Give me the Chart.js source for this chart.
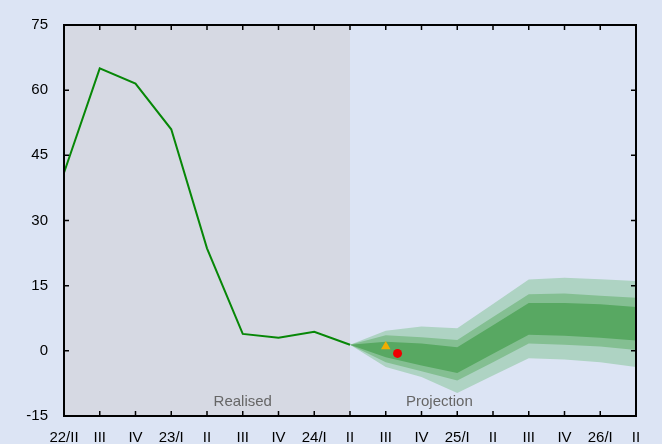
<!DOCTYPE html>
<html>
<head>
<meta charset="utf-8">
<script src="https://cdn.jsdelivr.net/npm/chart.js@4.4.1/dist/chart.umd.min.js"></script>
<style>
  html, body { margin: 0; padding: 0; background: #dce4f4; }
  #wrap { width: 662px; height: 444px; }
</style>
</head>
<body>
<div id="wrap"><canvas id="fan"></canvas></div>
<script>
// quarters, 22/II .. 26/II
var quarters = ['22/II','III','IV','23/I','II','III','IV','24/I','II','III','IV','25/I','II','III','IV','26/I','II'];
var yTicks = [-15, 0, 15, 30, 45, 60, 75];

// realised values (22/II .. 24/II)
var realised = [41, 65, 61.5, 51, 23.6, 3.9, 3.0, 4.4, 1.4];

// projection bands, 24/II .. 26/II
var outerHi = [1.4, 4.6, 5.6, 5.2, 10.8, 16.4, 16.8, 16.5, 16.1];
var midHi   = [1.4, 3.6, 3.1, 2.5, 7.8, 13.0, 13.2, 12.7, 12.2];
var innerHi = [1.4, 2.1, 1.7, 0.8, 5.9, 11.0, 11.0, 10.7, 10.1];
var innerLo = [1.4, -1.5, -3.4, -5.1, -0.7, 3.7, 3.5, 3.0, 2.4];
var midLo   = [1.4, -2.6, -4.7, -6.8, -2.6, 1.7, 1.4, 1.0, 0.2];
var outerLo = [1.4, -3.7, -6.0, -9.7, -5.7, -1.7, -2.0, -2.6, -3.7];
var projStart = 8;

var triangle = [{x: 9, y: 1.0}];
var redDot = [{x: 9.33, y: -0.6}];

function pts(arr, start) {
  return arr.map(function (v, i) { return {x: i + start, y: v}; });
}

function band(data, fillTo, colour, order) {
  return {
    data: pts(data, projStart),
    borderWidth: 0,
    pointRadius: 0,
    backgroundColor: colour,
    fill: fillTo === null ? false : {target: fillTo},
    order: order
  };
}

var backdrop = {
  id: 'backdrop',
  beforeDraw: function (chart) {
    var c = chart.ctx, a = chart.chartArea, x = chart.scales.x, y = chart.scales.y;
    c.save();
    c.fillStyle = '#dce4f4';
    c.fillRect(0, 0, chart.width, chart.height);
    c.fillStyle = '#d6d9e3';
    c.fillRect(a.left, a.top, x.getPixelForValue(8) - a.left, a.bottom - a.top);
    c.fillStyle = '#666666';
    c.font = '15px "Liberation Sans", Arial, sans-serif';
    c.textAlign = 'center';
    c.textBaseline = 'middle';
    c.fillText('Realised', x.getPixelForValue(5), y.getPixelForValue(-11.8));
    c.fillText('Projection', x.getPixelForValue(10.5), y.getPixelForValue(-11.8));
    c.restore();
  },
  afterDraw: function (chart) {
    var c = chart.ctx, a = chart.chartArea, x = chart.scales.x, y = chart.scales.y;
    c.save();
    c.strokeStyle = '#000';
    c.lineWidth = 2;
    c.strokeRect(a.left, a.top, a.right - a.left, a.bottom - a.top);
    c.lineWidth = 1.5;
    c.beginPath();
    for (var i = 1; i < quarters.length - 1; i++) {
      var px = x.getPixelForValue(i);
      c.moveTo(px, a.bottom); c.lineTo(px, a.bottom - 5);
      c.moveTo(px, a.top); c.lineTo(px, a.top + 5);
    }
    yTicks.forEach(function (t) {
      var py = y.getPixelForValue(t);
      c.moveTo(a.left, py); c.lineTo(a.left + 5, py);
      c.moveTo(a.right, py); c.lineTo(a.right - 5, py);
    });
    c.stroke();
    c.restore();
  }
};

new Chart(document.getElementById('fan').getContext('2d'), {
  type: 'line',
  data: {
    datasets: [
      {data: pts(realised, 0), borderColor: '#078707', borderWidth: 2, pointRadius: 0, fill: false, order: 0},
      {type: 'scatter', data: triangle, pointStyle: 'triangle', pointRadius: 5.5, backgroundColor: '#f2ad00', borderWidth: 0, order: -1},
      {type: 'scatter', data: redDot, pointStyle: 'circle', pointRadius: 4.5, backgroundColor: '#ee0000', borderWidth: 0, order: -1},
      band(outerHi, 4, '#aed3c3', 5),
      band(outerLo, null, '#aed3c3', 5),
      band(midHi, 6, '#84bf92', 4),
      band(midLo, null, '#84bf92', 4),
      band(innerHi, 8, '#58a862', 3),
      band(innerLo, null, '#58a862', 3)
    ]
  },
  options: {
    responsive: true,
    maintainAspectRatio: false,
    animation: false,
    layout: {autoPadding: false, padding: {top: 22, right: 26, left: 0, bottom: 0}},
    plugins: {legend: {display: false}, tooltip: {enabled: false}},
    scales: {
      x: {
        type: 'linear', min: 0, max: 16,
        afterFit: function (s) { s.height = 28; },
        afterBuildTicks: function (s) { s.ticks = quarters.map(function (q, i) { return {value: i}; }); },
        grid: {display: false, drawTicks: false},
        border: {display: false},
        ticks: {
          autoSkip: false, maxRotation: 0, padding: 13, color: '#000',
          font: {family: '"Liberation Sans", Arial, sans-serif', size: 15},
          callback: function (v) { return quarters[v]; }
        }
      },
      y: {
        min: -15, max: 75,
        afterFit: function (s) { s.width = 64; },
        afterBuildTicks: function (s) { s.ticks = yTicks.map(function (t) { return {value: t}; }); },
        grid: {display: false, drawTicks: false},
        border: {display: false},
        ticks: {
          padding: 16, color: '#000',
          font: {family: '"Liberation Sans", Arial, sans-serif', size: 15}
        }
      }
    }
  },
  plugins: [backdrop]
});
</script>
</body>
</html>
